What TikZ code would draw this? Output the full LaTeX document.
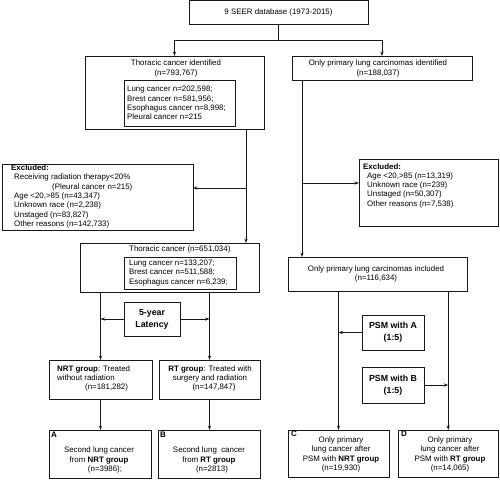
\documentclass[tikz,border=0pt]{standalone}
\usepackage{fontspec}
\setmainfont{Liberation Sans}
\usetikzlibrary{arrows.meta}

\begin{document}
\begin{tikzpicture}[x=1pt,y=-1pt,
    box/.style={draw=black!90, line width=0.85pt, inner sep=0pt, outer sep=0pt, anchor=north west,
      align=center, font=\fontsize{7.9}{9.3}\selectfont},
    txt/.style={font=\fontsize{7.9}{9.3}\selectfont, inner sep=0pt, align=left, anchor=west},
    ctxt/.style={font=\fontsize{7.9}{9.3}\selectfont, inner sep=0pt, align=center},
    big/.style={font=\bfseries\fontsize{8.8}{12}\selectfont},
    tag/.style={font=\bfseries\fontsize{8}{9}\selectfont, inner sep=0pt, anchor=west},
    line/.style={draw=black!90, line width=0.85pt},
    link/.style={draw=black!90, line width=0.85pt, -{Stealth[length=4.5pt,width=3.2pt]}}]
    \useasboundingbox (0,0) rectangle (500,479);

    %boxes
    \node[box, minimum width=179pt, minimum height=23.5pt] (seer) at (189,0.5) {9 SEER database (1973-2015)};
    \node[box, minimum width=179pt, minimum height=73pt] (thor) at (85,56) {};
    \node[box, minimum width=111pt, minimum height=46pt] (thorin) at (124,80) {};
    \node[box, minimum width=180pt, minimum height=24pt] (lung) at (292,56) {};
    \node[box, minimum width=191pt, minimum height=66pt] (excl) at (2,164) {};
    \node[box, minimum width=179pt, minimum height=49pt] (thortwo) at (80,243) {};
    \node[box, minimum width=112pt, minimum height=32pt] (thortwoin) at (124,257) {};
    \node[box, minimum width=139.5pt, minimum height=67pt] (exclr) at (359,159) {};
    \node[box, minimum width=179pt, minimum height=34pt] (lungin) at (288,257) {};
    \node[box, big, minimum width=56pt, minimum height=34pt] (lat) at (124,302) {5-year\\Latency};
    \node[box, minimum width=103pt, minimum height=39pt] (nrt) at (49,360) {};
    \node[box, minimum width=101pt, minimum height=39pt] (rt) at (159,360) {};
    \node[box, minimum width=102pt, minimum height=48pt] (boxa) at (49,430) {};
    \node[box, minimum width=102pt, minimum height=48pt] (boxb) at (158,430) {};
    \node[box, big, minimum width=62pt, minimum height=35pt] (psma) at (362,315) {PSM with A\\(1:5)};
    \node[box, big, minimum width=62pt, minimum height=36pt] (psmb) at (362,367) {PSM with B\\(1:5)};
    \node[box, minimum width=101pt, minimum height=47pt] (boxc) at (288,430) {};
    \node[box, minimum width=100.5pt, minimum height=47pt] (boxd) at (398,430) {};

    %texts
    \node[ctxt] (thortitle) at (176,68.5) {Thoracic cancer identified\\(n=793,767)};
    \node[txt] (thorlist) at (127,103) {Lung cancer n=202,598;\\Brest cancer n=581,956;\\Esophagus cancer n=8,998;\\Pleural cancer n=215};
    \node[ctxt] (lungtitle) at (378,68.5) {Only primary lung carcinomas identified\\(n=188,037)};
    \node[txt] (excltext) at (11,196.5) {\textbf{Excluded:}\\\hspace*{3pt}Receiving radiation therapy<20\%\\\hspace*{41pt}(Pleural cancer n=215)\\\hspace*{3pt}Age <20,>85 (n=43,347)\\\hspace*{3pt}Unknown race (n=2,238)\\\hspace*{3pt}Unstaged (n=83,827)\\\hspace*{3pt}Other reasons (n=142,733)};
    \node[txt] (exclrtext) at (363,185.6) {\textbf{Excluded:}\\\hspace*{4pt}Age <20,>85 (n=13,319)\\\hspace*{4pt}Unknown race (n=239)\\\hspace*{4pt}Unstaged (n=50,307)\\\hspace*{4pt}Other reasons (n=7,538)};
    \node[txt] (thortwotitle) at (129,249) {Thoracic cancer (n=651,034)};
    \node[txt] (thortwolist) at (129,273) {Lung cancer n=133,207;\\Brest cancer n=511,588;\\Esophagus cancer n=6,239;};
    \node[ctxt] (lungintitle) at (376,274) {Only primary lung carcinomas included\\(n=116,634)};
    \node[txt] (nrttext) at (57,378.5) {\textbf{NRT group}: Treated\\without radiation\\\hspace*{28pt}(n=181,282)};
    \node[ctxt] (rttext) at (210,378.5) {\textbf{RT group}: Treated with\\surgery and radiation\\\hspace*{8pt}(n=147,847)};
    \node[tag] (taga) at (51,435) {A};
    \node[ctxt] (atext) at (99,460) {Second lung cancer\\from \textbf{NRT group}\\\hspace*{12pt}(n=3986);};
    \node[tag] (tagb) at (160,435) {B};
    \node[ctxt] (btext) at (209,460) {Second lung\ \ cancer\\from \textbf{RT group}\\\hspace*{6pt}(n=2813)};
    \node[tag] (tagc) at (291,434) {C};
    \node[ctxt] (ctext) at (341,454.5) {Only primary\\lung cancer after\\PSM with \textbf{NRT group}\\(n=19,930)};
    \node[tag] (tagd) at (401,434) {D};
    \node[ctxt] (dtext) at (450,454.5) {Only primary\\lung cancer after\\PSM with \textbf{RT group}\\(n=14,065)};

    %connectors
    \coordinate (split) at (seer.south |- 0,40);
    \draw[line] (seer.south) -- (split);
    \draw[link] (split) -| (thor.north);
    \draw[link] (split) -| (lung.north);
    \coordinate (thorout) at (thor.south -| 246,0);
    \draw[link] (thorout) -- (thorout |- thortwo.north);
    \draw[link] (thorout |- 0,188) -- (excl.east |- 0,188);
    \coordinate (lungout) at (lung.south -| 302,0);
    \draw[link] (lungout) -- (lungout |- lungin.north);
    \draw[link] (lungout |- 0,183) -- (exclr.west |- 0,183);
    \draw[link] (nrt.north |- thortwo.south) -- (nrt.north);
    \draw[link] (rt.north |- thortwo.south) -- (rt.north);
    \draw[link] (lat.west) -- (lat.west -| nrt.north);
    \draw[link] (lat.east) -- (lat.east -| rt.north);
    \draw[link] (nrt.south) -- (nrt.south |- boxa.north);
    \draw[link] (rt.south) -- (rt.south |- boxb.north);
    \draw[link] (boxc.north |- lungin.south) -- (boxc.north);
    \draw[link] (boxd.north |- lungin.south) -- (boxd.north);
    \draw[link] (psma.west) -- (psma.west -| boxc.north);
    \draw[link] (psmb.east) -- (psmb.east -| boxd.north);
\end{tikzpicture}
\end{document}
